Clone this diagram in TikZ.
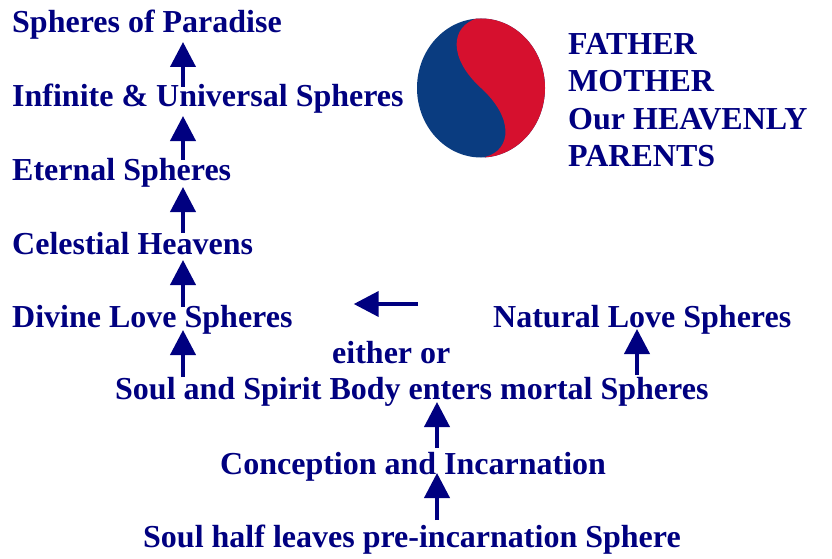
\documentclass[tikz,border=0pt]{standalone}
\usepackage{fontspec}
\setmainfont{Liberation Serif}
\usetikzlibrary{arrows.meta}
\definecolor{navytext}{HTML}{000080}
\definecolor{yinblue}{HTML}{0A3C80}
\definecolor{yangred}{HTML}{D6102E}

\begin{document}
\begin{tikzpicture}
  [x=1pt,y=-1pt,
   every node/.style={anchor=base west,inner sep=0pt,text=navytext,
     font=\fontsize{32}{37}\selectfont\bfseries},
   flow/.style={navytext,line width=4pt,-{Triangle[width=25pt,length=25pt]}}]
  \useasboundingbox (0,0) rectangle (832,559);

  % the symbol
  \begin{scope}
    \clip (481,88) ellipse [x radius=64, y radius=69.5];
    \fill[yinblue] (410,10) rectangle (550,165);
    \fill[yangred] (478,10) -- (478,18) .. controls (450,26) and (448,58) .. (481,88)
      .. controls (514,118) and (512,150) .. (485,157) -- (485,165) -- (550,165) -- (550,10) -- cycle;
  \end{scope}
  \foreach \word [count=\i] in {FATHER,MOTHER,Our HEAVENLY,PARENTS}
    \node (fm\i) at (568,18+37*\i) {\word};

  \node (par) at (12,33) {Spheres of Paradise};
  \node (inf) at (12,107) {Infinite \& Universal Spheres};
  \node (ete) at (12,180) {Eternal Spheres};
  \node (cel) at (12,254) {Celestial Heavens};
  \node (div) at (12,327) {Divine Love Spheres};
  \node (nat) at (493,327) {Natural Love Spheres};
  \node (eit) at (332,363) {either or};
  \node (mor) at (115,399) {Soul and Spirit Body enters mortal Spheres};
  \node (con) at (220,474) {Conception and Incarnation};
  \node (pre) at (143,547) {Soul half leaves pre-incarnation Sphere};

  \coordinate (lcol) at (183,0);
  \coordinate (mcol) at (437,0);
  \coordinate (rcol) at (637,0);
  \foreach \src/\dst/\col/\sa/\sb in {inf/par/lcol/20/-9,ete/inf/lcol/20/-9,
      cel/ete/lcol/21/-7,div/cel/lcol/20/-6,mor/div/lcol/22/-3,mor/nat/rcol/24/-2,
      con/mor/mcol/26/-3,pre/con/mcol/27/1}
    \draw[flow] ([yshift=\sa pt]\src.base -| \col) -- ([yshift=\sb pt]\dst.base -| \col);
  \draw[flow] ([xshift=-75pt,yshift=23pt]nat.base west) -- ([xshift=61pt,yshift=23pt]div.base east);
\end{tikzpicture}
\end{document}
